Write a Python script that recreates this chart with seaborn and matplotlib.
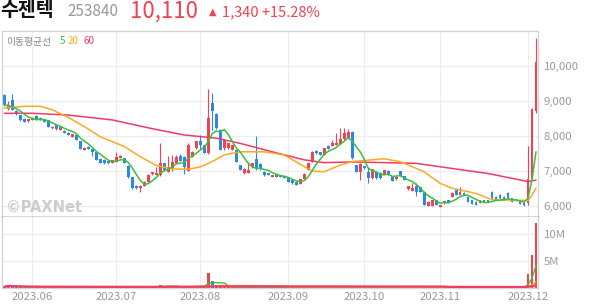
import matplotlib
matplotlib.use("Agg")
import matplotlib.pyplot as plt
import seaborn as sns
import numpy as np
import pandas as pd

# ---------------- data ----------------
opens = [9160, 8760, 9020, 8710, 8590, 8470, 8420, 8450, 8560, 8510,
         8470, 8450, 8210, 8310, 8160, 8140, 8090, 7970, 8020, 7850,
         7590, 7690, 7610, 7540, 7330, 7300, 7290, 7230, 7260, 7370,
         7360, 7130, 6820, 6570, 6500, 6560, 6690, 6900, 6880, 6880,
         7210, 6970, 7070, 7230, 7420, 7400, 7000, 7400, 7640, 7860,
         7730, 7510, 8940, 8620, 8160, 7640, 7640, 7590, 7590, 7160,
         6940, 6940, 7100, 7330, 7200, 6970, 6930, 6830, 6900, 6880,
         6850, 6810, 6730, 6690, 6620, 6770, 7020, 7260, 7570, 7530,
         7450, 7710, 7710, 7740, 7760, 7900, 7930, 8110, 7160, 6970,
         7130, 6970, 6780, 6970, 6940, 6910, 7000, 6810, 6750, 6990,
         6850, 6470, 6430, 6560, 6530, 6400, 5990, 5990, 6160, 5960,
         6070, 6160, 6260, 6450, 6310, 6370, 6260, 6160, 6110, 6090,
         6160, 6160, 6400, 6260, 6310, 6260, 6370, 6210, 6180, 6120,
         6090, 6070, 6760, 8710]
highs = [9200, 8990, 9190, 8740, 8600, 8500, 8480, 8530, 8580, 8540,
         8480, 8460, 8270, 8320, 8270, 8150, 8100, 8060, 8030, 7860,
         7670, 7700, 7620, 7550, 7340, 7320, 7300, 7310, 7540, 7450,
         7370, 7150, 6830, 6580, 6580, 6700, 6900, 6960, 7110, 7800,
         7230, 7420, 7450, 7450, 7480, 7410, 7780, 7550, 7860, 8020,
         7740, 9330, 9230, 8640, 8180, 7900, 7800, 7740, 7600, 7170,
         7070, 7230, 7220, 7990, 7210, 7000, 6940, 6890, 6910, 6890,
         6860, 6820, 6740, 6700, 6760, 6920, 7230, 7550, 7600, 7540,
         7650, 7720, 7880, 8070, 8210, 8210, 8200, 8120, 7170, 7230,
         7140, 7110, 7050, 6980, 6960, 7030, 7010, 6820, 6840, 7000,
         6860, 6570, 6640, 6640, 6540, 6410, 6120, 6170, 6170, 6030,
         6140, 6170, 6380, 6480, 6540, 6380, 6270, 6170, 6120, 6170,
         6170, 6170, 6410, 6270, 6320, 6270, 6380, 6220, 6190, 6130,
         6100, 7710, 8780, 10790]
lows = [8850, 8730, 8720, 8600, 8430, 8380, 8380, 8440, 8460, 8440,
        8390, 8250, 8200, 8170, 8150, 8070, 8010, 7960, 7870, 7610,
        7580, 7610, 7420, 7300, 7220, 7200, 7200, 7220, 7240, 7360,
        7220, 6800, 6480, 6470, 6400, 6550, 6680, 6890, 6870, 6850,
        7000, 6960, 7000, 7220, 7280, 6900, 6990, 7390, 7630, 7610,
        7500, 7480, 8160, 8200, 7580, 7590, 7630, 7580, 7250, 7010,
        6910, 6930, 7090, 7020, 7030, 6860, 6870, 6820, 6820, 6820,
        6790, 6680, 6630, 6580, 6610, 6760, 7010, 7250, 7490, 7440,
        7440, 7610, 7700, 7730, 7750, 7890, 7920, 7340, 6960, 6740,
        7060, 6640, 6770, 6770, 6760, 6900, 6870, 6700, 6740, 6840,
        6720, 6460, 6420, 6270, 6390, 6020, 5980, 5980, 6010, 5950,
        6060, 6080, 6250, 6300, 6300, 6300, 6100, 6040, 6010, 6080,
        6100, 6100, 6200, 6150, 6200, 6170, 6200, 6100, 6120, 6040,
        6000, 6030, 6750, 8650]
closes = [8880, 8850, 8740, 8610, 8450, 8400, 8470, 8510, 8470, 8450,
          8400, 8260, 8260, 8180, 8260, 8090, 8020, 8050, 7880, 7620,
          7660, 7620, 7540, 7310, 7230, 7220, 7210, 7300, 7400, 7420,
          7230, 6820, 6500, 6500, 6570, 6690, 6880, 6950, 6930, 7210,
          7020, 7100, 7260, 7400, 7290, 7100, 7730, 7540, 7850, 7730,
          7510, 8500, 8710, 8210, 7590, 7880, 7780, 7730, 7260, 7020,
          7040, 7010, 7210, 7040, 7040, 6880, 6880, 6880, 6830, 6830,
          6800, 6690, 6640, 6590, 6750, 6910, 7220, 7540, 7500, 7450,
          7640, 7620, 7800, 7800, 7900, 8090, 8110, 7350, 6970, 7190,
          7070, 6780, 7040, 6780, 6790, 7020, 6880, 6710, 6830, 6850,
          6730, 6560, 6500, 6400, 6400, 6030, 6110, 6160, 6020, 6020,
          6130, 6090, 6370, 6310, 6400, 6310, 6110, 6050, 6020, 6160,
          6110, 6110, 6210, 6160, 6210, 6180, 6210, 6110, 6130, 6050,
          6010, 6760, 8770, 10110]
volumes_m = [0.15, 0.45, 0.15, 0.14, 0.12, 0.11, 0.10, 0.12, 0.13, 0.10,
             0.11, 0.12, 0.10, 0.12, 0.11, 0.10, 0.12, 0.10, 0.12, 0.12,
             0.11, 0.10, 0.12, 0.13, 0.11, 0.10, 0.09, 0.10, 0.12, 0.10,
             0.10, 0.15, 0.15, 0.12, 0.11, 0.12, 0.12, 0.11, 0.13, 0.55,
             0.12, 0.35, 0.15, 0.13, 0.12, 0.12, 0.30, 0.14, 0.35, 0.33,
             0.15, 2.73, 1.15, 0.20, 0.15, 0.14, 0.12, 0.11, 0.13, 0.12,
             0.10, 0.12, 0.11, 0.12, 0.30, 0.10, 0.08, 0.08, 0.09, 0.07,
             0.08, 0.10, 0.09, 0.10, 0.11, 0.12, 0.12, 0.30, 0.12, 0.10,
             0.12, 0.10, 0.11, 0.13, 0.12, 0.13, 0.12, 0.15, 0.12, 0.12,
             0.10, 0.11, 0.10, 0.09, 0.10, 0.09, 0.08, 0.09, 0.07, 0.08,
             0.08, 0.10, 0.09, 0.11, 0.09, 0.13, 0.11, 0.10, 0.08, 0.09,
             0.07, 0.06, 0.10, 0.09, 0.11, 0.07, 0.08, 0.07, 0.06, 0.07,
             0.05, 0.05, 0.08, 0.06, 0.06, 0.05, 0.07, 0.05, 0.05, 0.06,
             0.08, 2.48, 6.08, 12.20]

ma20_idx = [0, 5, 9, 12, 16, 20, 24, 30, 34, 38, 42, 46, 49, 52, 55, 59, 65,
            70, 73, 77, 80, 84, 87, 95, 99, 105, 109, 112, 118, 122, 131, 132, 133]
ma20_val = [8790, 8840, 8840, 8740, 8520, 8260, 7970, 7690, 7400, 7150, 7050,
            7040, 7110, 7260, 7450, 7540, 7540, 7450, 7250, 6990, 6970, 7160,
            7260, 7340, 7260, 6970, 6640, 6500, 6350, 6170, 6150, 6300, 6500]
ma60_idx = [0, 7, 16, 27, 37, 45, 53, 59, 67, 75, 80, 87, 103, 111, 121, 131, 133]
ma60_val = [8640, 8640, 8590, 8450, 8200, 8020, 7930, 7780, 7540, 7310, 7230,
            7250, 7210, 7080, 6920, 6690, 6730]

month_idx = [7, 28, 49, 71, 90, 109, 131]
month_labels = ["2023.06", "2023.07", "2023.08", "2023.09", "2023.10", "2023.11", "2023.12"]
price_ticks = [6000, 7000, 8000, 9000, 10000]
price_tick_labels = ["6,000", "7,000", "8,000", "9,000", "10,000"]
vol_ticks = [5, 10]
vol_tick_labels = ["5M", "10M"]

# ---------------- style ----------------
sns.set_theme(style="white")
plt.rcParams["font.family"] = ["Noto Sans CJK KR", "DejaVu Sans"]

RED = "#f0424f"
BLUE = "#2b87e8"
GREEN = "#3cbf3c"
ORANGE = "#ffa726"
PINK = "#f03c64"
GRID = "#ededed"
TICK = "#9a9a9a"

W, H = 594, 304
fig = plt.figure(figsize=(W / 100, H / 100), dpi=100)
fig.patch.set_facecolor("white")

def fx(x):
    return x / W

def fy(y):
    return 1 - y / H

ax = fig.add_axes([fx(2), fy(217), (538 - 2) / W, (217 - 31) / H])
axv = fig.add_axes([fx(2), fy(287.5), (538 - 2) / W, (287.5 - 217) / H])

df = pd.DataFrame({"o": opens, "h": highs, "l": lows, "c": closes, "v": volumes_m})
df["idx"] = np.arange(len(df))
df["up"] = df["c"] >= df["o"]
df["color"] = np.where(df["up"], RED, BLUE)
df["ma5"] = df["c"].rolling(5, min_periods=1).mean()
df["v5"] = df["v"].rolling(5, min_periods=1).mean()
df["v20"] = df["v"].rolling(20, min_periods=1).mean()
df["v60"] = df["v"].rolling(60, min_periods=1).mean()

# ---------------- price panel ----------------
ax.set_xlim(-0.6, 133.5)
ax.set_ylim(5677, 10991)
for m in month_idx:
    ax.axvline(m, color=GRID, lw=0.9, zorder=0)
for p in price_ticks:
    ax.axhline(p, color=GRID, lw=0.9, zorder=0)

ax.vlines(df["idx"], df["l"], df["h"], colors=df["color"], lw=0.8, zorder=2)
body_h = np.maximum((df["c"] - df["o"]).abs(), 30)
ax.bar(df["idx"], body_h, bottom=np.minimum(df["o"], df["c"]), width=0.72,
       color=df["color"], linewidth=0, zorder=2)

sns.lineplot(x=ma60_idx, y=ma60_val, ax=ax, color=PINK, lw=1.1, zorder=3)
sns.lineplot(x=ma20_idx, y=ma20_val, ax=ax, color=ORANGE, lw=1.1, zorder=3)
sns.lineplot(data=df, x="idx", y="ma5", ax=ax, color=GREEN, lw=1.1, zorder=3)

ax.set_xlabel("")
ax.set_ylabel("")
ax.set_xticks([])
ax.yaxis.tick_right()
ax.set_yticks(price_ticks)
ax.set_yticklabels(price_tick_labels)
ax.tick_params(axis="y", length=0, pad=4, labelsize=8.2, labelcolor=TICK)
for s in ["top", "left", "right"]:
    ax.spines[s].set_color("#d2d2d2")
    ax.spines[s].set_linewidth(0.9)
ax.spines["bottom"].set_color("#333333")
ax.spines["bottom"].set_linewidth(1.0)

ax.text(0.008, 0.05, "©PAXNet", transform=ax.transAxes, fontsize=10.5,
        fontweight="bold", color="#cccccc", family=["DejaVu Sans"], va="center", ha="left")

# ---------------- volume panel ----------------
axv.set_xlim(-0.6, 133.5)
axv.set_ylim(0, 13.3)
for m in month_idx:
    axv.axvline(m, color=GRID, lw=0.9, zorder=0)
for v in vol_ticks:
    axv.axhline(v, color=GRID, lw=0.9, zorder=0)
axv.bar(df["idx"], df["v"], width=0.72, color=df["color"], linewidth=0, zorder=2)
sns.lineplot(data=df, x="idx", y="v5", ax=axv, color=GREEN, lw=1.0, zorder=3)
sns.lineplot(data=df, x="idx", y="v20", ax=axv, color=ORANGE, lw=1.0, zorder=3)
sns.lineplot(data=df, x="idx", y="v60", ax=axv, color=PINK, lw=1.6, zorder=4)
axv.set_xlabel("")
axv.set_ylabel("")
axv.yaxis.tick_right()
axv.set_yticks(vol_ticks)
axv.set_yticklabels(vol_tick_labels)
axv.set_xticks(month_idx)
axv.set_xticklabels(month_labels)
axv.tick_params(axis="y", length=0, pad=4, labelsize=8.2, labelcolor=TICK)
axv.tick_params(axis="x", length=0, pad=3, labelsize=8.2, labelcolor=TICK)
axv.spines["top"].set_visible(False)
for s in ["left", "right", "bottom"]:
    axv.spines[s].set_color("#d2d2d2")
    axv.spines[s].set_linewidth(0.9)

# ---------------- header ----------------
fig.text(fx(0), fy(11), "수젠텍", fontsize=14, fontweight="bold", color="#111111",
         va="center", ha="left")
fig.text(fx(67), fy(12), "253840", fontsize=11, color="#999999", va="center", ha="left")
fig.text(fx(130), fy(11), "10,110", fontsize=16, color=RED, va="center", ha="left")
fig.text(fx(209), fy(12), "▲", fontsize=7, color=RED, va="center", ha="left",
         family=["DejaVu Sans"])
fig.text(fx(222), fy(12), "1,340 +15.28%", fontsize=10.5, color=RED, va="center", ha="left")

fig.text(fx(6), fy(41.5), "이동평균선", fontsize=7, color="#888888", va="center", ha="left")
fig.text(fx(60), fy(41.5), "5", fontsize=7, color=GREEN, va="center", ha="left")
fig.text(fx(68), fy(41.5), "20", fontsize=7, color=ORANGE, va="center", ha="left")
fig.text(fx(83), fy(41.5), "60", fontsize=7, color=PINK, va="center", ha="left")

fig.savefig("out.png", dpi=100, facecolor="white")
